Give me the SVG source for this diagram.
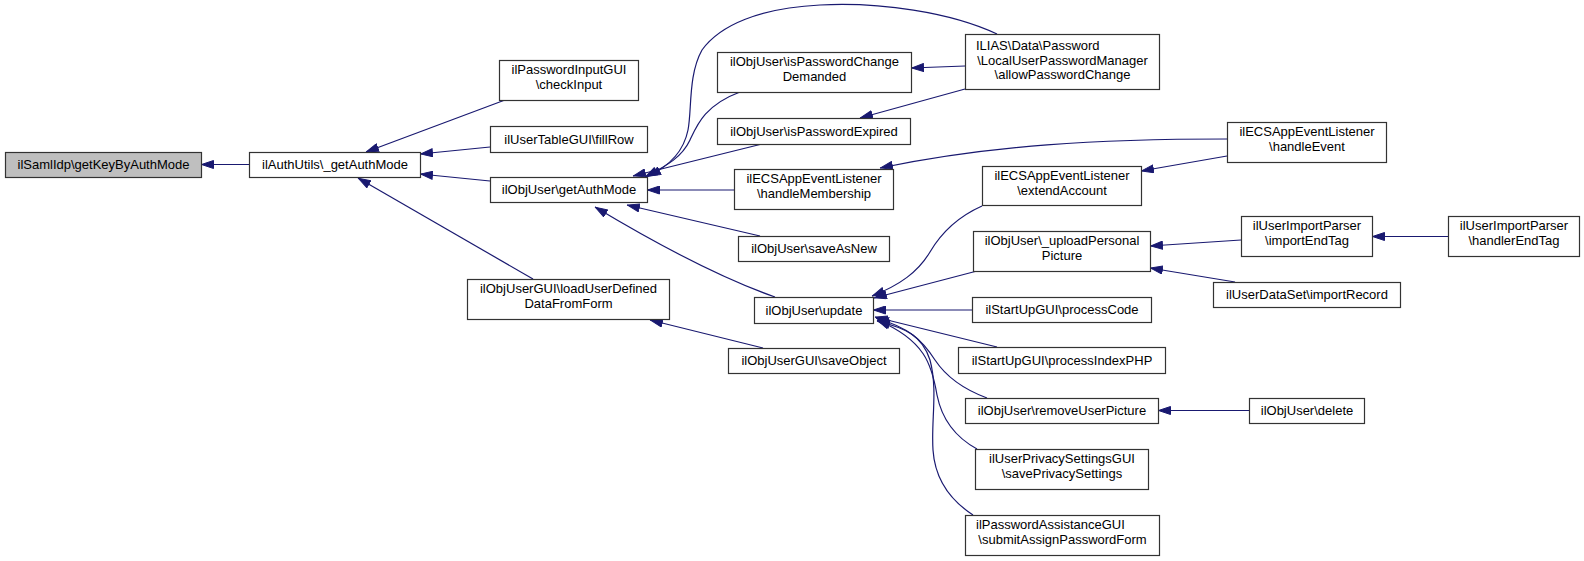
<svg xmlns="http://www.w3.org/2000/svg" width="1584" height="561" viewBox="0 0 1584 561">
<style>
.n rect{fill:#fff;stroke:#333;stroke-width:1.2}
.n.root rect{fill:#bfbfbf}
.n text{font-family:"Liberation Sans",Arial,sans-serif;font-size:13px;fill:#000;text-anchor:middle}
.n text.l{text-anchor:start}
#edges path{fill:none;stroke:#191970;stroke-width:1.2;marker-end:url(#arr)}
</style>
<defs>
<marker id="arr" viewBox="0 0 13 9" refX="13" refY="4.5" markerWidth="13" markerHeight="9" orient="auto" markerUnits="userSpaceOnUse">
<path d="M0.5,0.5 L12.5,4.5 L0.5,8.5 z" fill="#191970" stroke="#191970" stroke-width="1"/>
</marker>
</defs>
<rect width="1584" height="561" fill="#fff"/>
<g id="edges">
<path d="M249,164.5 L201,164.5"/>
<path d="M505,100 L366,152"/>
<path d="M490,147 L420,154"/>
<path d="M490,181 L420,174"/>
<path d="M533,279 L358,178"/>
<path d="M740,92 C705,105 697,125 690,140 C682,157 668,165 645,177"/>
<path d="M997,34 C950,12 880,2 820,5 C760,8 720,25 702,50 C688,75 692,110 688,130 C684,150 672,165 648,176"/>
<path d="M762,144 L633,176"/>
<path d="M734,190 L647,190"/>
<path d="M760,236 L627,205"/>
<path d="M775,297 C735,283 680,258 595,207"/>
<path d="M763,348 L650,320"/>
<path d="M965,66 L911,68"/>
<path d="M965,89 L860,118"/>
<path d="M1227,139 C1100,139 990,145 880,168"/>
<path d="M1227,156 L1141,171"/>
<path d="M982,206 C955,218 940,235 930,252 C918,272 900,285 872,296"/>
<path d="M977,271 L874,298"/>
<path d="M972,310 L873,310"/>
<path d="M997,347 L875,317"/>
<path d="M987,398 C960,388 945,375 935,360 C922,340 910,328 876,318"/>
<path d="M977,449 C955,437 942,420 937,395 C932,365 925,340 877,320"/>
<path d="M973,515 C950,500 935,480 933,450 C931,420 938,390 930,360 C922,335 905,328 877,321"/>
<path d="M1241,240 L1150,246"/>
<path d="M1235,282 L1150,268"/>
<path d="M1448,236.5 L1372,236.5"/>
<path d="M1249,410.5 L1158,410.5"/>
</g>
<g id="n0" class="n root"><rect x="5.5" y="152.5" width="196" height="25"/><text x="103.5" y="169">ilSamlIdp\getKeyByAuthMode</text></g>
<g id="n1" class="n"><rect x="249.5" y="152.5" width="171" height="25"/><text x="335" y="169">ilAuthUtils\_getAuthMode</text></g>
<g id="n2" class="n"><rect x="499.5" y="60.5" width="139" height="40"/><text x="569" y="74">ilPasswordInputGUI</text><text x="569" y="89">\checkInput</text></g>
<g id="n3" class="n"><rect x="490.5" y="126.5" width="157" height="26"/><text x="569" y="144">ilUserTableGUI\fillRow</text></g>
<g id="n4" class="n"><rect x="490.5" y="177.5" width="157" height="25"/><text x="569" y="194">ilObjUser\getAuthMode</text></g>
<g id="n5" class="n"><rect x="467.5" y="279.5" width="202" height="40"/><text x="568.5" y="293">ilObjUserGUI\loadUserDefined</text><text x="568.5" y="308">DataFromForm</text></g>
<g id="n6" class="n"><rect x="717.5" y="52.5" width="194" height="40"/><text x="814.5" y="66">ilObjUser\isPasswordChange</text><text x="814.5" y="81">Demanded</text></g>
<g id="n7" class="n"><rect x="717.5" y="118.5" width="193" height="26"/><text x="814" y="136">ilObjUser\isPasswordExpired</text></g>
<g id="n8" class="n"><rect x="734.5" y="169.5" width="159" height="40"/><text x="814" y="183">ilECSAppEventListener</text><text x="814" y="198">\handleMembership</text></g>
<g id="n9" class="n"><rect x="738.5" y="236.5" width="151" height="25"/><text x="814" y="253">ilObjUser\saveAsNew</text></g>
<g id="n10" class="n"><rect x="754.5" y="297.5" width="119" height="26"/><text x="814" y="315">ilObjUser\update</text></g>
<g id="n11" class="n"><rect x="728.5" y="348.5" width="171" height="25"/><text x="814" y="365">ilObjUserGUI\saveObject</text></g>
<g id="n12" class="n"><rect x="965.5" y="34.5" width="194" height="55"/><text class="l" x="976" y="50">ILIAS\Data\Password</text><text x="1062.5" y="65">\LocalUserPasswordManager</text><text x="1062.5" y="79">\allowPasswordChange</text></g>
<g id="n13" class="n"><rect x="1227.5" y="122.5" width="159" height="40"/><text x="1307" y="136">ilECSAppEventListener</text><text x="1307" y="151">\handleEvent</text></g>
<g id="n14" class="n"><rect x="982.5" y="166.5" width="159" height="39"/><text x="1062" y="180">ilECSAppEventListener</text><text x="1062" y="195">\extendAccount</text></g>
<g id="n15" class="n"><rect x="973.5" y="231.5" width="177" height="40"/><text x="1062" y="245">ilObjUser\_uploadPersonal</text><text x="1062" y="260">Picture</text></g>
<g id="n16" class="n"><rect x="972.5" y="297.5" width="179" height="25"/><text x="1062" y="314">ilStartUpGUI\processCode</text></g>
<g id="n17" class="n"><rect x="958.5" y="347.5" width="207" height="26"/><text x="1062" y="365">ilStartUpGUI\processIndexPHP</text></g>
<g id="n18" class="n"><rect x="965.5" y="398.5" width="193" height="25"/><text x="1062" y="415">ilObjUser\removeUserPicture</text></g>
<g id="n19" class="n"><rect x="975.5" y="449.5" width="173" height="40"/><text x="1062" y="463">ilUserPrivacySettingsGUI</text><text x="1062" y="478">\savePrivacySettings</text></g>
<g id="n20" class="n"><rect x="965.5" y="515.5" width="194" height="40"/><text class="l" x="976" y="529">ilPasswordAssistanceGUI</text><text x="1062.5" y="544">\submitAssignPasswordForm</text></g>
<g id="n21" class="n"><rect x="1241.5" y="216.5" width="131" height="40"/><text x="1307" y="230">ilUserImportParser</text><text x="1307" y="245">\importEndTag</text></g>
<g id="n22" class="n"><rect x="1448.5" y="216.5" width="131" height="40"/><text x="1514" y="230">ilUserImportParser</text><text x="1514" y="245">\handlerEndTag</text></g>
<g id="n23" class="n"><rect x="1213.5" y="282.5" width="187" height="25"/><text x="1307" y="299">ilUserDataSet\importRecord</text></g>
<g id="n24" class="n"><rect x="1249.5" y="398.5" width="115" height="25"/><text x="1307" y="415">ilObjUser\delete</text></g>
</svg>
